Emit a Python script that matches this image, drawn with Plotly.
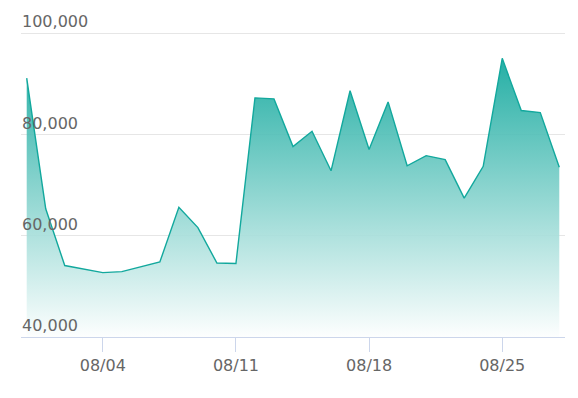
import plotly.graph_objects as go
import pandas as pd

dates = pd.date_range("2024-07-31", "2024-08-28", freq="D")
values = [91100, 65300, 54100, 53400, 52700, 52900, 53900, 54800, 65600, 61600,
          54600, 54500, 87200, 87000, 77600, 80600, 72800, 88600, 77000, 86400,
          73800, 75800, 75000, 67400, 73700, 95000, 84700, 84300, 73500]
x_ticks = ["2024-08-04", "2024-08-11", "2024-08-18", "2024-08-25"]
x_tick_labels = ["08/04", "08/11", "08/18", "08/25"]
y_ticks = [40000, 60000, 80000, 100000]

fig = go.Figure()
fig.add_trace(go.Scatter(
    x=dates, y=values, mode="lines",
    line=dict(color="#12a89d", width=1.4),
    fill="tozeroy",
    fillgradient=dict(type="vertical", start=40000, stop=95000,
                      colorscale=[[0, "rgba(255,255,255,0.9)"], [1, "rgba(18,168,157,0.92)"]]),
    hoverinfo="skip",
))

x0 = dates[0] - pd.Timedelta(hours=7.2)
x1 = dates[-1] + pd.Timedelta(hours=7.2)

fig.update_layout(
    width=578, height=398,
    margin=dict(l=21, r=13, t=29, b=61),
    paper_bgcolor="white", plot_bgcolor="white",
    showlegend=False,
    font=dict(family="DejaVu Sans", size=16, color="#666666"),
    xaxis=dict(
        range=[x0, x1], tickvals=x_ticks, ticktext=x_tick_labels,
        tickfont=dict(family="DejaVu Sans", size=16, color="#666666"),
        showgrid=False, showline=True, linecolor="#ccd6eb", linewidth=1,
        ticks="outside", ticklen=14, tickcolor="#ccd6eb", tickwidth=1,
        zeroline=False,
    ),
    yaxis=dict(
        range=[40000, 100200], tickvals=y_ticks, tickformat=",",
        tickfont=dict(family="DejaVu Sans", size=16, color="#666666"),
        ticklabelposition="inside top", ticklabeloverflow="allow",
        ticklabelstandoff=-2,
        ticks="", showgrid=True, gridcolor="#e6e6e6", gridwidth=1,
        zeroline=False, showline=False,
    ),
)

fig.write_html("out.html")
